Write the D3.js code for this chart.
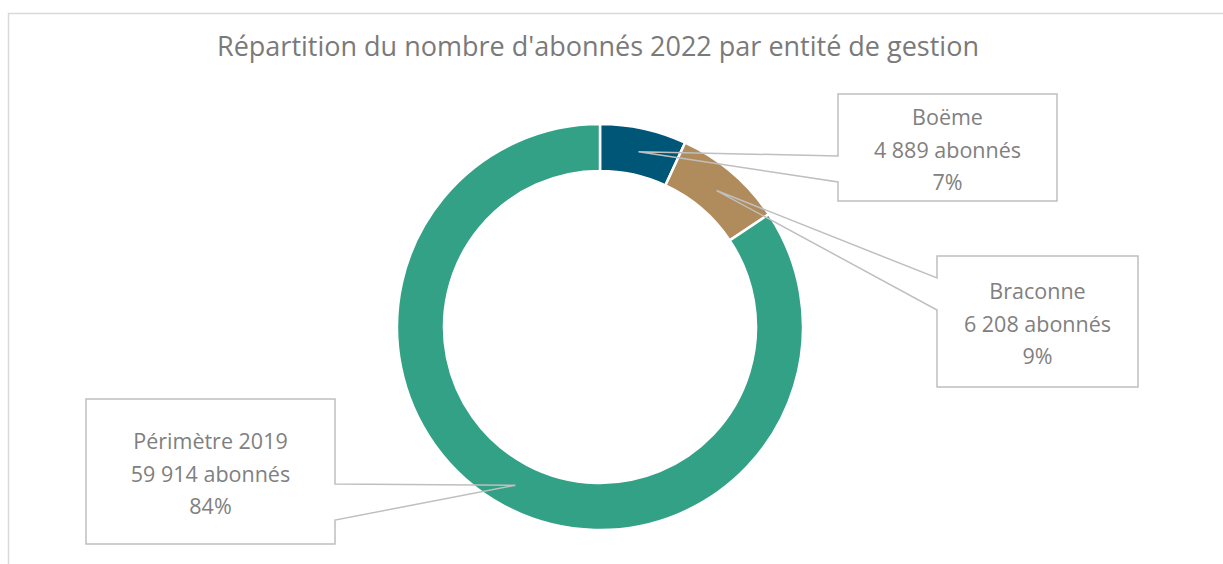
<!DOCTYPE html>
<html>
<head>
<meta charset="utf-8">
<script src="https://cdn.jsdelivr.net/npm/d3@7"></script>
<style>
  body { margin: 0; background: #fff; }
  svg { display: block; font-family: "Open Sans", sans-serif; }
</style>
</head>
<body>
<div id="chart"></div>
<script>
var titleText = "Répartition du nombre d'abonnés 2022 par entité de gestion";
var entites = ["Boëme", "Braconne", "Périmètre 2019"];
var abonnes = [4889, 6208, 59914];
var couleurs = ["#005677", "#b08b5b", "#33a185"];

var W = 1223, H = 564;
var cx = 600, cy = 327, rOuter = 203, rInner = 156;

// callout boxes: [x, y, w, h, side, attach y1, attach y2]
var boxes = [
  {x: 838, y: 94, w: 219, h: 107, side: "left", a1: 62, a2: 88},
  {x: 937, y: 256, w: 201, h: 131, side: "left", a1: 22, a2: 54},
  {x: 86, y: 399, w: 249, h: 145, side: "right", a1: 85, a2: 121}
];

var fmt = d3.formatLocale({decimal: ",", thousands: "\u00a0", grouping: [3], currency: ["", " €"]}).format(",d");
var total = d3.sum(abonnes);

var svg = d3.select("#chart").append("svg")
    .attr("width", W)
    .attr("height", H);

// chart frame (cropped right/bottom)
svg.append("path")
    .attr("d", "M8.5," + H + "V13.5H" + W)
    .attr("fill", "none")
    .attr("stroke", "#d9d9d9")
    .attr("stroke-width", 1.5);

svg.append("text")
    .attr("x", 598)
    .attr("y", 56)
    .attr("text-anchor", "middle")
    .attr("fill", "#7a7a7a")
    .style("font-size", "27px")
    .text(titleText);

var data = entites.map(function(e, i){ return {name: e, value: abonnes[i], color: couleurs[i], box: boxes[i]}; });

var pie = d3.pie().sort(null).value(function(d){ return d.value; });
var arc = d3.arc().innerRadius(rInner).outerRadius(rOuter);
var arcs = pie(data);

var g = svg.append("g").attr("transform", "translate(" + cx + "," + cy + ")");
g.selectAll("path.slice")
    .data(arcs)
    .enter()
    .append("path")
    .attr("class", "slice")
    .attr("d", arc)
    .attr("fill", function(d){ return d.data.color; })
    .attr("stroke", "#fff")
    .attr("stroke-width", 2.5);

// callouts
arcs.forEach(function(a){
  var b = a.data.box;
  var c = arc.centroid(a);
  var tx = cx + c[0], ty = cy + c[1];
  var pts;
  if (b.side === "left") {
    pts = [[b.x, b.y], [b.x + b.w, b.y], [b.x + b.w, b.y + b.h], [b.x, b.y + b.h],
           [b.x, b.y + b.a2], [tx, ty], [b.x, b.y + b.a1], [b.x, b.y]];
  } else {
    pts = [[b.x, b.y], [b.x + b.w, b.y], [b.x + b.w, b.y + b.a1], [tx, ty],
           [b.x + b.w, b.y + b.a2], [b.x + b.w, b.y + b.h], [b.x, b.y + b.h], [b.x, b.y]];
  }
  svg.append("path")
      .attr("d", d3.line()(pts) + "Z")
      .attr("fill", "none")
      .attr("stroke", "#bfbfbf")
      .attr("stroke-width", 1.5)
      .attr("stroke-linejoin", "miter");

  var lines = [a.data.name, fmt(a.data.value) + " abonnés", Math.round(a.data.value / total * 100) + "%"];
  var t = svg.append("text")
      .attr("text-anchor", "middle")
      .attr("fill", "#808080")
      .style("font-size", "21.5px");
  var midY = b.y + b.h / 2;
  lines.forEach(function(l, i){
    t.append("tspan")
      .attr("x", b.x + b.w / 2)
      .attr("y", midY + (i - 1) * 32.5 + 10)
      .text(l);
  });
});
</script>
</body>
</html>
